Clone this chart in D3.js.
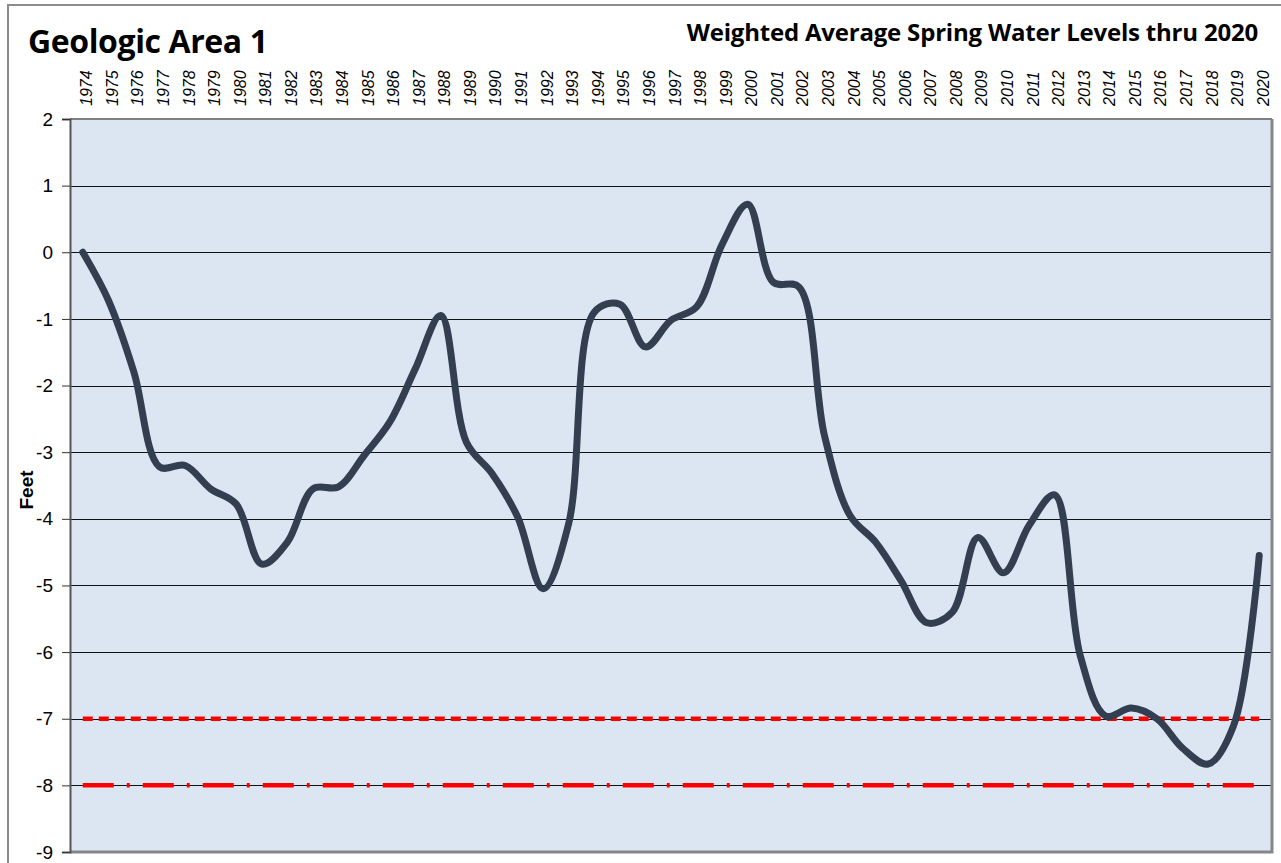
<!DOCTYPE html>
<html>
<head>
<meta charset="utf-8">
<title>Geologic Area 1</title>
<script src="https://cdn.jsdelivr.net/npm/d3@7"></script>
<style>
  body { margin: 0; background: #fff; }
  #chart svg { display: block; }
</style>
</head>
<body>
<div id="chart"></div>
<script>
// years on the x axis
const years = d3.range(1974, 2021).map(String)
// weighted average spring water level, feet
const levels = [
  0, -0.72, -1.8, -3.22, -3.2, -3.55, -3.78, -4.68, -4.35, -3.55,
  -3.52, -3.05, -2.55, -1.75, -0.95, -2.85, -3.32, -3.97, -5.05, -4.07,
  -0.9, -0.78, -1.42, -1.02, -0.82, 0.12, 0.72, -0.45, -0.52, -2.75,
  -3.95, -4.35, -4.93, -5.56, -5.4, -4.28, -4.81, -4.1, -3.64, -6.05,
  -6.96, -6.84, -7.0, -7.44, -7.68, -7.1, -4.55
]
// the two red reference levels
const warnLevel = [-7]
const critLevel = [-8]
const yTicks = [2, 1, 0, -1, -2, -3, -4, -5, -6, -7, -8, -9]

class SpringLevelChart {
  defaultOption() {
    return {
      width: 1281,
      height: 863,
      padding: { top: 119, right: 9, bottom: 11, left: 70 }
    }
  }

  constructor(selector, option) {
    this.config = Object.assign(this.defaultOption(), option)
    this.svg = d3.select(selector).append('svg')
      .attr('width', this.config.width)
      .attr('height', this.config.height)
  }

  draw() {
    const { width, height, padding } = this.config
    const svg = this.svg
    const x0 = padding.left, x1 = width - padding.right
    const y0 = padding.top, y1 = height - padding.bottom

    const x = d3.scalePoint().domain(years).range([x0, x1]).padding(0.5)
    const y = d3.scaleLinear().domain([-9, 2]).range([y1, y0])

    // outer frame
    svg.append('rect')
      .attr('x', 8).attr('y', 5)
      .attr('width', width).attr('height', height + 10)
      .attr('fill', '#fff').attr('stroke', '#8c8c8c').attr('stroke-width', 2)

    // plot area
    svg.append('rect')
      .attr('x', x0).attr('y', y0)
      .attr('width', x1 - x0).attr('height', y1 - y0)
      .attr('fill', '#dce6f2')

    // grid lines
    svg.append('g').selectAll('line').data(yTicks.filter(d => d > -9 && d < 2)).enter()
      .append('line')
      .attr('x1', x0).attr('x2', x1)
      .attr('y1', d => Math.round(y(d)) + 0.5).attr('y2', d => Math.round(y(d)) + 0.5)
      .attr('stroke', '#111').attr('stroke-width', 1)

    // top border, right + bottom shadow border
    svg.append('line').attr('x1', x0).attr('x2', x1).attr('y1', y0).attr('y2', y0)
      .attr('stroke', '#7f7f7f').attr('stroke-width', 2)
    svg.append('path')
      .attr('d', `M${x1},${y0} V${y1} H${x0}`)
      .attr('fill', 'none').attr('stroke', '#868686').attr('stroke-width', 3)

    // y axis
    const yAxis = d3.axisLeft(y).tickValues(yTicks).tickSize(8).tickPadding(9)
      .tickFormat(d3.format('d'))
    const ya = svg.append('g').attr('transform', `translate(${x0},0)`).call(yAxis)
    ya.select('.domain').attr('stroke', '#555').attr('stroke-width', 2)
    ya.selectAll('.tick line').attr('stroke', '#333')
    ya.selectAll('.tick text')
      .attr('font-family', 'Liberation Sans, Arial, sans-serif')
      .attr('font-size', 19).attr('fill', '#000')
      .text(d => d < 0 ? '-' + Math.abs(d) : d)

    svg.append('text')
      .attr('transform', `translate(33,490) rotate(-90)`)
      .attr('text-anchor', 'middle')
      .attr('font-family', 'Liberation Sans, Arial, sans-serif')
      .attr('font-weight', 'bold').attr('font-size', 19)
      .text('Feet')

    // x labels (top, rotated)
    svg.append('g').selectAll('text').data(years).enter()
      .append('text')
      .attr('transform', d => `translate(${x(d) + 4},106) rotate(-90)`)
      .attr('dominant-baseline', 'central')
      .attr('font-family', 'Liberation Sans, Arial, sans-serif')
      .attr('font-style', 'italic').attr('font-size', 16)
      .text(d => d)

    // reference lines
    const refLine = d3.line().x(d => x(d[0])).y(d => y(d[1]))
    const ends = [years[0], years[years.length - 1]]
    svg.append('path')
      .attr('d', refLine(ends.map(e => [e, warnLevel[0]])))
      .attr('stroke', '#ff0000').attr('stroke-width', 4.5).attr('fill', 'none')
      .attr('stroke-dasharray', '10,6')
    svg.append('path')
      .attr('d', refLine(ends.map(e => [e, critLevel[0]])))
      .attr('stroke', '#ff0000').attr('stroke-width', 4.5).attr('fill', 'none')
      .attr('stroke-dasharray', '31,13,3,13')

    // water level line, smoothed like the spreadsheet version
    const line = d3.line()
      .x((d, i) => x(years[i]))
      .y(d => y(d))
      .curve(d3.curveCatmullRom.alpha(0.5))
    svg.append('path')
      .datum(levels)
      .attr('d', line)
      .attr('fill', 'none')
      .attr('stroke', '#333f50')
      .attr('stroke-width', 7)
      .attr('stroke-linecap', 'round')
      .attr('stroke-linejoin', 'round')

    // titles
    svg.append('text')
      .attr('x', 28).attr('y', 53)
      .attr('font-family', 'Open Sans, sans-serif')
      .attr('font-weight', 'bold').attr('font-size', 32)
      .attr('letter-spacing', -0.4)
      .text('Geologic Area 1')
    svg.append('text')
      .attr('x', 1258).attr('y', 41)
      .attr('text-anchor', 'end')
      .attr('font-family', 'Open Sans, sans-serif')
      .attr('font-weight', 'bold').attr('font-size', 24)
      .attr('letter-spacing', -0.2)
      .text('Weighted Average Spring Water Levels thru 2020')
  }
}

const chart = new SpringLevelChart('#chart')
chart.draw()
</script>
</body>
</html>
